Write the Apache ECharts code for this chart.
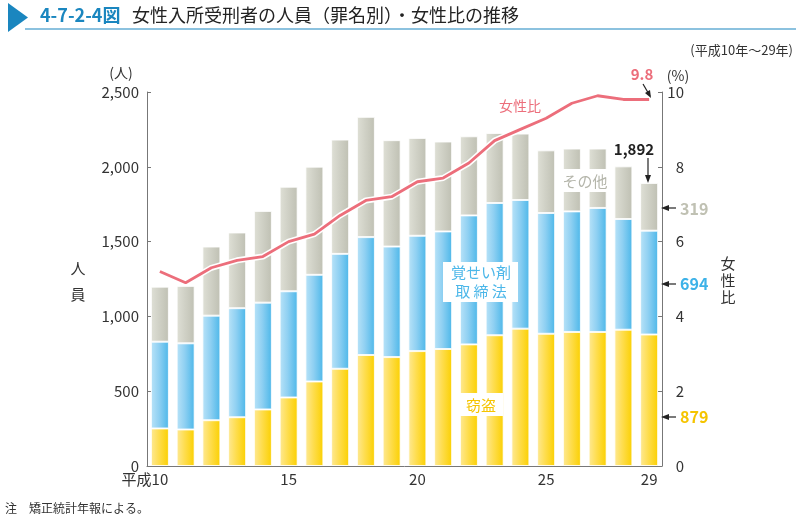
<!DOCTYPE html>
<html><head><meta charset="utf-8">
<script src="https://cdn.jsdelivr.net/npm/echarts@6/dist/echarts.min.js"></script>
<style>html,body{margin:0;padding:0;background:#fff}#c{width:796px;height:517px}</style>
</head><body><div id="c"></div>
<script>
const years = ['平成10','11','12','13','14','15','16','17','18','19','20','21','22','23','24','25','26','27','28','29'];
const theft = [251,244,306,326,378,458,565,650,742,728,768,782,813,874,918,884,896,896,911,879];
const stimulant = [580,576,699,729,714,710,713,768,788,739,771,786,862,884,860,807,806,829,740,694];
const other = [368,384,462,506,613,699,723,764,804,711,654,601,529,468,444,419,420,397,352,319];
const femaleRatio = [5.2,4.9,5.3,5.5,5.6,6.0,6.2,6.7,7.1,7.2,7.6,7.7,8.1,8.7,9.0,9.3,9.7,9.9,9.8,9.8];
const leftTicks = [0,500,1000,1500,2000,2500];
const rightTicks = [0,2,4,6,8,10];
const labelIdx = [0,5,10,15,19];

const FONT = '"Noto Sans CJK JP","Noto Sans",sans-serif';
function hgrad(a,b,c){return {type:'linear',x:0,y:0,x2:1,y2:0,colorStops:[{offset:0,color:a},{offset:0.45,color:b},{offset:1,color:c}]};}
const chart = echarts.init(document.getElementById('c'));
const barBase = {type:'bar',stack:'t',barWidth:18,itemStyle:{borderColor:'rgba(255,255,255,0.8)',borderWidth:1}};
chart.setOption({
  animation:false,
  textStyle:{fontFamily:FONT},
  grid:{left:147,right:134,top:92,bottom:51,containLabel:false},
  xAxis:{type:'category',data:years,
    axisLine:{lineStyle:{color:'#777',width:1}},axisTick:{show:false},
    axisLabel:{interval:(i)=>labelIdx.includes(i),margin:6,color:'#333',fontSize:15,fontFamily:FONT,
      formatter:(v,i)=> i===0 ? '{a|'+v+'}' : v,
      rich:{a:{fontSize:15,fontFamily:FONT,color:'#333',padding:[0,30,0,0]}}}},
  yAxis:[
    {type:'value',min:0,max:2500,interval:500,
     axisLine:{show:true,lineStyle:{color:'#777'}},axisTick:{show:true,inside:true,length:4,lineStyle:{color:'#777'}},
     splitLine:{show:false},
     axisLabel:{color:'#333',fontSize:15,margin:8,formatter:v=>leftTicks.includes(v)?v.toLocaleString('en-US'):''}},
    {type:'value',min:0,max:10,interval:2,position:'right',
     axisLine:{show:true,lineStyle:{color:'#777'}},axisTick:{show:true,inside:true,length:4,lineStyle:{color:'#777'}},
     splitLine:{show:false},
     axisLabel:{color:'#333',fontSize:15,margin:22,align:'right',formatter:v=>rightTicks.includes(v)?String(v):''}}
  ],
  series:[
    Object.assign({},barBase,{name:'窃盗',data:theft,itemStyle:Object.assign({},barBase.itemStyle,{color:hgrad('#fee995','#fedd4e','#fbd000')})}),
    Object.assign({},barBase,{name:'覚せい剤取締法',data:stimulant,itemStyle:Object.assign({},barBase.itemStyle,{color:hgrad('#b9e3f8','#8fd0f2','#4cb7e9')})}),
    Object.assign({},barBase,{name:'その他',data:other,itemStyle:Object.assign({},barBase.itemStyle,{color:hgrad('#dfe0d6','#d0d1c6','#bfc0b3')})}),
    {type:'line',name:'女性比outline',yAxisIndex:1,data:femaleRatio,symbol:'none',z:9,lineStyle:{color:'#fff',width:6},silent:true},
    {type:'line',name:'女性比',yAxisIndex:1,data:femaleRatio,symbol:'none',z:10,lineStyle:{color:'#ec6e7b',width:2.8}}
  ],
  graphic:[
    {type:'polygon',shape:{points:[[8,3],[28,17.5],[8,32]]},style:{fill:'#1a86bf'},z:100},
    {type:'line',shape:{x1:25,y1:29,x2:796,y2:29},style:{stroke:'#1a86bf',lineWidth:1.2},z:100},
    {type:'text',x:40,y:15,style:{text:'4-7-2-4図',fill:'#1a86bf',font:'bold 18px '+FONT,textVerticalAlign:'middle'},z:100},
    {type:'text',x:132,y:15,style:{text:'女性入所受刑者の人員（罪名別）・女性比の推移',fill:'#222',font:'18px '+FONT,textVerticalAlign:'middle'},z:100},
    {type:'text',x:793,y:50,style:{text:'(平成10年～29年)',fill:'#333',font:'13px '+FONT,textAlign:'right',textVerticalAlign:'middle'},z:100},
    {type:'text',x:121,y:73,style:{text:'(人)',fill:'#333',font:'14px '+FONT,textAlign:'center',textVerticalAlign:'middle'},z:100},
    {type:'text',x:678,y:76,style:{text:'(%)',fill:'#333',font:'14px '+FONT,textAlign:'center',textVerticalAlign:'middle'},z:100},
    {type:'text',x:78,y:281,style:{text:'人\n\n員',fill:'#333',font:'15px '+FONT,textAlign:'center',textVerticalAlign:'middle',lineHeight:13},z:100},
    {type:'text',x:728,y:280,style:{text:'女\n性\n比',fill:'#333',font:'15px '+FONT,textAlign:'center',textVerticalAlign:'middle',lineHeight:17},z:100},
    {type:'text',x:520,y:106,style:{text:'女性比',fill:'#ec6e7b',font:'14px '+FONT,textAlign:'center',textVerticalAlign:'middle'},z:100},
    {type:'rect',shape:{x:560,y:169,width:49,height:23},style:{fill:'#fff'},z:100},
    {type:'text',x:585,y:181,style:{text:'その他',fill:'#b4b5aa',font:'15px '+FONT,textAlign:'center',textVerticalAlign:'middle'},z:101},
    {type:'rect',shape:{x:443,y:262,width:75,height:40},style:{fill:'#fff'},z:100},
    {type:'text',x:481,y:282,style:{text:'覚せい剤\n取 締 法',fill:'#4cb7e9',font:'15px '+FONT,textAlign:'center',textVerticalAlign:'middle',lineHeight:19},z:101},
    {type:'rect',shape:{x:459,y:393,width:44,height:23},style:{fill:'#fff'},z:100},
    {type:'text',x:481,y:405,style:{text:'窃盗',fill:'#f5c400',font:'15px '+FONT,textAlign:'center',textVerticalAlign:'middle'},z:101},
    {type:'text',x:642,y:74,style:{text:'9.8',fill:'#ec6e7b',font:'bold 15px '+FONT,textAlign:'center',textVerticalAlign:'middle'},z:100},
    {type:'line',shape:{x1:643,y1:84,x2:650,y2:96},style:{stroke:'#222',lineWidth:1.2},z:100},
    {type:'polygon',shape:{points:[[651,98],[645,93],[650,90]]},style:{fill:'#222'},z:100},
    {type:'text',x:634,y:149,style:{text:'1,892',fill:'#222',font:'bold 15px '+FONT,textAlign:'center',textVerticalAlign:'middle'},z:100},
    {type:'line',shape:{x1:648,y1:158,x2:648,y2:178},style:{stroke:'#222',lineWidth:1.2},z:100},
    {type:'polygon',shape:{points:[[648,183],[645,175],[651,175]]},style:{fill:'#222'},z:100},
    {type:'line',shape:{x1:668,y1:208,x2:676,y2:208},style:{stroke:'#222',lineWidth:1.2},z:100},
    {type:'polygon',shape:{points:[[661,208],[669,205],[669,211]]},style:{fill:'#222'},z:100},
    {type:'text',x:680,y:209,style:{text:'319',fill:'#c0c1b3',font:'bold 16px '+FONT,textVerticalAlign:'middle'},z:100},
    {type:'line',shape:{x1:668,y1:284,x2:676,y2:284},style:{stroke:'#222',lineWidth:1.2},z:100},
    {type:'polygon',shape:{points:[[661,284],[669,281],[669,287]]},style:{fill:'#222'},z:100},
    {type:'text',x:680,y:284,style:{text:'694',fill:'#3db2e8',font:'bold 16px '+FONT,textVerticalAlign:'middle'},z:100},
    {type:'line',shape:{x1:668,y1:417,x2:676,y2:417},style:{stroke:'#222',lineWidth:1.2},z:100},
    {type:'polygon',shape:{points:[[661,417],[669,414],[669,420]]},style:{fill:'#222'},z:100},
    {type:'text',x:680,y:417,style:{text:'879',fill:'#f5c400',font:'bold 16px '+FONT,textVerticalAlign:'middle'},z:100},
    {type:'text',x:5,y:508,style:{text:'注　矯正統計年報による。',fill:'#333',font:'12px '+FONT,textVerticalAlign:'middle'},z:100}
  ]
});
</script></body></html>
